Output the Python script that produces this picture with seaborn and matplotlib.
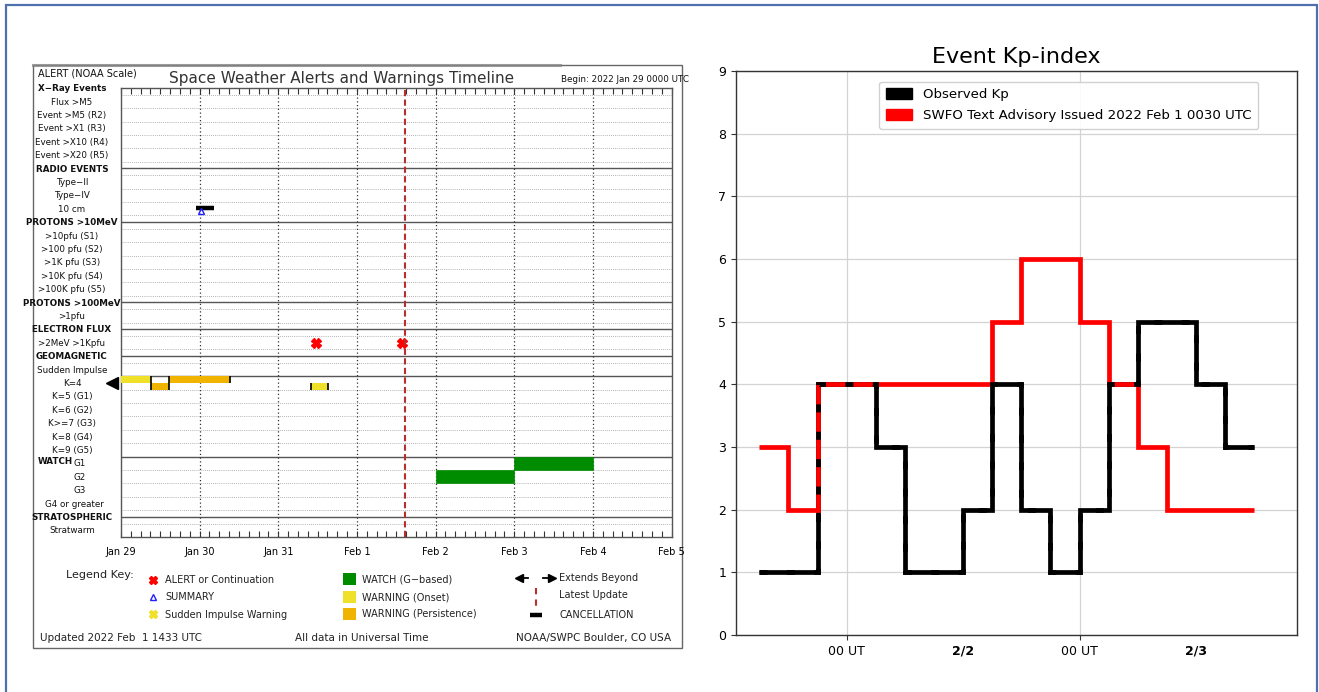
import matplotlib
matplotlib.use("Agg")
import matplotlib.pyplot as plt
import matplotlib.transforms as mtransforms
from matplotlib.patches import Patch, Rectangle
import numpy as np
import pandas as pd
import seaborn as sns

# ---------------------------------------------------------------- data
# Timeline panel (hours since 2022 Jan 29 0000 UTC)
DAY_LABELS = ["Jan 29", "Jan 30", "Jan 31", "Feb 1", "Feb 2", "Feb 3", "Feb 4", "Feb 5"]

ROW_LABELS = [
    "X\u2212Ray Events", "Flux >M5", "Event >M5 (R2)", "Event >X1 (R3)",
    "Event >X10 (R4)", "Event >X20 (R5)",
    "RADIO EVENTS", "Type\u2212II", "Type\u2212IV", "10 cm",
    "PROTONS >10MeV", ">10pfu (S1)", ">100 pfu (S2)", ">1K pfu (S3)",
    ">10K pfu (S4)", ">100K pfu (S5)",
    "PROTONS >100MeV", ">1pfu",
    "ELECTRON FLUX", ">2MeV >1Kpfu",
    "GEOMAGNETIC", "Sudden Impulse", "K=4", "K=5 (G1)", "K=6 (G2)",
    "K>=7 (G3)", "K=8 (G4)", "K=9 (G5)",
    "G1", "G2", "G3", "G4 or greater",
    "STRATOSPHERIC", "Stratwarm",
]
HEADER_ROWS = ["X\u2212Ray Events", "RADIO EVENTS", "PROTONS >10MeV", "PROTONS >100MeV",
               "ELECTRON FLUX", "GEOMAGNETIC", "STRATOSPHERIC"]
SECTION_LINES = [6, 10, 16, 18, 20, 21.5, 27.5, 32]

onset_start = [0.0, 58.0]
onset_end = [9.2, 63.1]
onset_half = ["upper", "lower"]
persist_start = [9.2, 14.8]
persist_end = [14.8, 33.3]
persist_half = ["lower", "upper"]

watch_level = ["G2", "G1"]
watch_start = [96.0, 120.0]
watch_end = [120.0, 144.0]

alert_times = [59.5, 85.8]
summary_time = 24.5
cancel_start, cancel_end = 22.8, 28.5
latest_update = 86.55

# Kp panel (hours relative to 2022 Feb 1 0000 UT, 3-hour bins)
kp_bin_start = [-9, -6, -3, 0, 3, 6, 9, 12, 15, 18, 21, 24, 27, 30, 33, 36, 39]
kp_observed = [1, 1, 4, 4, 3, 1, 1, 2, 4, 2, 1, 2, 4, 5, 5, 4, 3]
kp_advisory = [3, 2, 4, 4, 4, 4, 4, 4, 5, 6, 6, 5, 4, 3, 2, 2, 2]
kp_tick_pos = [0, 24]
kp_tick_labels = ["00 UT", "00 UT"]
kp_date_pos = [12, 36]
kp_date_labels = ["2/2", "2/3"]

# ---------------------------------------------------------------- figure
W, H = 1319, 692
fig = plt.figure(figsize=(W / 100, H / 100), dpi=100)
plt.rcParams["font.family"] = ["DejaVu Sans"]

# overlay in pixel units for frames and the legend key
ov = fig.add_axes([0, 0, 1, 1])
ov.set_xlim(0, W)
ov.set_ylim(H, 0)
ov.axis("off")

blue = "#4F6FAF"
ov.plot([6, 6, 1317, 1317], [H, 5, 5, H], color=blue, lw=1.6, solid_joinstyle="miter")

# timeline frame
ov.add_patch(Rectangle((33, 65), 649, 583, fill=False, ec="#666666", lw=1.0))
ov.plot([33, 560], [65, 65], color="#888888", lw=2.2, alpha=0.8)


def px_axes(x0, y0, x1, y1):
    return fig.add_axes([x0 / W, 1 - y1 / H, (x1 - x0) / W, (y1 - y0) / H])


# ---------------------------------------------------------------- timeline
ax1 = px_axes(121, 88, 671.5, 537)
ax1.set_xlim(0, 168)
ax1.set_ylim(33.5, 0)
for s in ax1.spines.values():
    s.set_color("#555555")
    s.set_linewidth(1.0)

day_hours = np.arange(0, 169, 24)
ax1.set_xticks(day_hours)
ax1.set_xticklabels(DAY_LABELS, fontsize=7)
ax1.set_xticks(np.arange(0, 169, 3), minor=True)
ax1.tick_params(axis="x", which="both", direction="in", length=4, width=0.8,
                top=True, bottom=True, color="#333333", pad=7)
ax1.set_yticks([])

n_rows = len(ROW_LABELS)
for y in np.arange(0.5, n_rows - 0.5, 1.0):
    if y not in SECTION_LINES:
        ax1.axhline(y, color="#9a9a9a", lw=0.6, ls=(0, (1, 1.5)), zorder=1)
for y in SECTION_LINES:
    ax1.axhline(y, color="#555555", lw=1.0, zorder=2)
for x in day_hours[1:-1]:
    ax1.axvline(x, color="#333333", lw=0.9, ls=(0, (1, 2)), zorder=2)

row_of = {lab: i for i, lab in enumerate(ROW_LABELS)}
lab_tr = mtransforms.blended_transform_factory(ax1.transAxes, ax1.transData)
xc = (72 - 121) / 550.5
xg = (80 - 121) / 550.5
for i, lab in enumerate(ROW_LABELS):
    bold = lab in HEADER_ROWS
    x = xc
    if lab in ("G1", "G2", "G3"):
        x = xg
    if lab == "G4 or greater":
        x = (74 - 121) / 550.5
    ax1.text(x, i + 0.05, lab, transform=lab_tr, ha="center", va="center",
             fontsize=6.3, fontweight="bold" if bold else "normal", color="#111111")
ax1.text((38 - 121) / 550.5, 27.85, "WATCH", transform=lab_tr, ha="left", va="center",
         fontsize=6.3, fontweight="bold", color="#111111")

# geomagnetic warnings on the K=4 row
k4 = row_of["K=4"]
onset_col, persist_col = "#EFE02A", "#F0B400"
for s, e, h in zip(onset_start, onset_end, onset_half):
    top = k4 - 0.5 if h == "upper" else k4
    ax1.add_patch(Rectangle((s, top), e - s, 0.5, fc=onset_col, ec="none", zorder=3))
for s, e, h in zip(persist_start, persist_end, persist_half):
    top = k4 - 0.5 if h == "upper" else k4
    ax1.add_patch(Rectangle((s, top), e - s, 0.5, fc=persist_col, ec="none", zorder=3))
edge_x = [onset_end[0], persist_end[0], persist_end[1], onset_start[1], onset_end[1]]
edge_top = [k4 - 0.5, k4 - 0.5, k4 - 0.5, k4, k4]
edge_bot = [k4 + 0.5, k4 + 0.5, k4, k4 + 0.5, k4 + 0.5]
ax1.vlines(edge_x, edge_top, edge_bot, color="black", lw=1.2, zorder=4)
ax1.plot([-2.6], [k4], marker="<", ms=9, color="black", clip_on=False, zorder=5)

# watches
for lvl, s, e in zip(watch_level, watch_start, watch_end):
    r = row_of[lvl]
    ax1.add_patch(Rectangle((s, r - 0.5), e - s, 1.0, fc="#008C00", ec="#008C00",
                            lw=0.5, zorder=3))

# alerts, summary, cancellation
e_row = row_of[">2MeV >1Kpfu"]
ax1.plot(alert_times, [e_row] * len(alert_times), ls="none", marker="X", ms=6.5,
         color="#FF0000", mec="#FF0000", zorder=5)
r10 = row_of["10 cm"]
ax1.plot([cancel_start, cancel_end], [r10 - 0.07, r10 - 0.07], color="black", lw=3.2,
         solid_capstyle="butt", zorder=5)
ax1.plot([summary_time], [r10 + 0.15], marker="^", ms=4.5, mfc="none", mec="#2020FF",
         mew=1.0, zorder=6)

ax1.axvline(latest_update, color="#B5302C", lw=1.5, ls=(0, (3, 1.6)), zorder=6)

# header texts
ov.text(38, 74, "ALERT (NOAA Scale)", fontsize=7, ha="left", va="center", color="#111111")
ov.text(342, 78, "Space Weather Alerts and Warnings Timeline", fontsize=11,
        ha="center", va="center", color="#333333")
ov.text(689, 80, "Begin: 2022 Jan 29 0000 UTC", fontsize=6.3, ha="right", va="center",
        color="#111111")

# legend key
ov.text(66, 575, "Legend Key:", fontsize=8, ha="left", va="center", color="#222222")
kx = 153
ov.plot([kx], [580], marker="X", ms=5.5, color="#FF0000", ls="none")
ov.plot([kx], [597], marker="^", ms=5, mfc="none", mec="#2020FF", mew=1.0, ls="none")
ov.plot([kx], [614], marker="X", ms=5.5, color="#EFE02A", ls="none")
for y, t in zip([580, 597, 615], ["ALERT or Continuation", "SUMMARY", "Sudden Impulse Warning"]):
    ov.text(165, y, t, fontsize=7, ha="left", va="center", color="#222222")
for y, c, t in zip([579, 597, 614], ["#008C00", onset_col, persist_col],
                   ["WATCH (G\u2212based)", "WARNING (Onset)", "WARNING (Persistence)"]):
    ov.add_patch(Rectangle((343, y - 6), 13, 12, fc=c, ec="none"))
    ov.text(362, y, t, fontsize=7, ha="left", va="center", color="#222222")
ov.plot([519], [578], marker="<", ms=6, color="black")
ov.plot([521, 528], [578, 578], color="black", lw=1.3)
ov.plot([552], [578], marker=">", ms=6, color="black")
ov.plot([543, 550], [578, 578], color="black", lw=1.3)
ov.plot([536, 536], [588, 608], color="#B5302C", lw=1.5, ls=(0, (3, 2.5)))
ov.plot([530, 542], [615, 615], color="black", lw=3.2, solid_capstyle="butt")
for y, t in zip([578, 595, 615], ["Extends Beyond", "Latest Update", "CANCELLATION"]):
    ov.text(559, y, t, fontsize=7, ha="left", va="center", color="#222222")

ov.text(40, 638, "Updated 2022 Feb  1 1433 UTC", fontsize=7.5, ha="left", va="center",
        color="#222222")
ov.text(362, 638, "All data in Universal Time", fontsize=7.5, ha="center", va="center",
        color="#222222")
ov.text(671, 638, "NOAA/SWPC Boulder, CO USA", fontsize=7.5, ha="right", va="center",
        color="#222222")

# ---------------------------------------------------------------- Kp panel
ax2 = px_axes(736, 71, 1297, 635)


def step_frame(starts, values):
    xs = list(starts) + [starts[-1] + 3]
    ys = list(values) + [values[-1]]
    return pd.DataFrame({"hour": xs, "kp": ys})


obs = step_frame(kp_bin_start, kp_observed)
adv = step_frame(kp_bin_start, kp_advisory)
lw = 3.4
common = dict(x="hour", y="kp", ax=ax2, estimator=None, sort=False, legend=False,
              drawstyle="steps-post", lw=lw)
sns.lineplot(data=obs, color="black", zorder=3, solid_joinstyle="miter",
             solid_capstyle="butt", **common)
sns.lineplot(data=adv, color="#FF0000", zorder=4, solid_joinstyle="miter",
             solid_capstyle="butt", **common)
# observed trace dashed on top so shared segments show both colours
sns.lineplot(data=obs, color="black", zorder=5, ls=(0, (1.7, 4.1)),
             dash_capstyle="butt", dash_joinstyle="miter", **common)

ax2.set_xlim(-11.4, 46.4)
ax2.set_ylim(0, 9)
ax2.set_yticks(range(0, 10))
ax2.set_xticks(kp_tick_pos)
ax2.set_xticklabels(kp_tick_labels)
ax2.set_xticks(kp_date_pos, minor=True)
ax2.set_xticklabels(kp_date_labels, minor=True, fontweight="bold")
ax2.tick_params(axis="x", which="minor", length=0, pad=6.5)
ax2.tick_params(axis="both", which="major", labelsize=9, length=3.5, color="#333333")
ax2.tick_params(axis="x", which="minor", labelsize=9)
ax2.grid(True, which="major", color="#d3d3d3", lw=0.9)
ax2.set_axisbelow(True)
ax2.set_xlabel("")
ax2.set_ylabel("")
for s in ax2.spines.values():
    s.set_color("#333333")
    s.set_linewidth(1.0)
ax2.set_title("Event Kp-index", fontsize=16, pad=6)

handles = [Patch(fc="black", ec="black"), Patch(fc="#FF0000", ec="#FF0000")]
ax2.legend(handles, ["Observed Kp", "SWFO Text Advisory Issued 2022 Feb 1 0030 UTC"],
           loc="upper right", bbox_to_anchor=(0.943, 0.993), fontsize=9.6,
           handlelength=2.0, handleheight=0.9, labelspacing=0.55, borderpad=0.5,
           framealpha=0.9, edgecolor="#cccccc", fancybox=True)

fig.savefig("out.png", dpi=100, facecolor="white")
